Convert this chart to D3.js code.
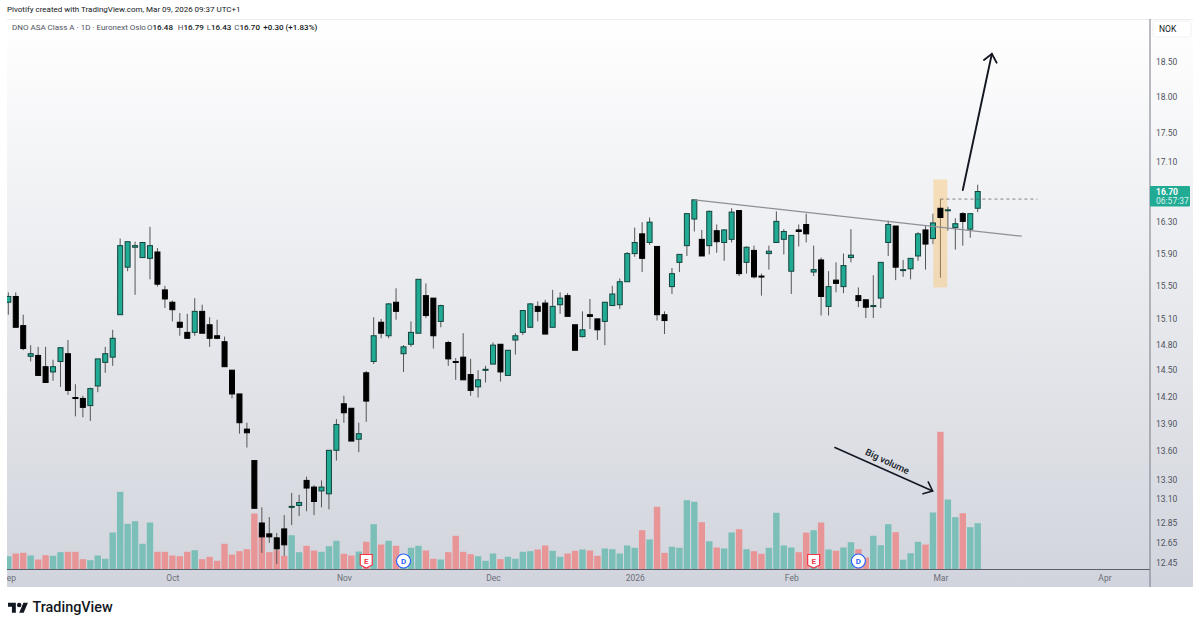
<!DOCTYPE html>
<html>
<head>
<meta charset="utf-8">
<script src="https://cdn.jsdelivr.net/npm/d3@7"></script>
<style>
  html, body { margin: 0; padding: 0; background: #fff; }
  text { font-family: Roboto, "Noto Sans", sans-serif; }
</style>
</head>
<body>
<div id="chart"></div>
<script>
// daily candles, oldest first (index 0 = first visible bar in Sep 2025)
const open = [15.30,15.37,15.02,14.66,14.67,14.54,14.48,14.60,14.69,14.19,14.18,14.10,14.32,14.59,14.65,15.15,15.73,15.98,15.85,15.84,
  15.92,15.45,15.30,15.06,14.94,14.94,15.19,15.03,14.90,14.83,14.50,14.23,13.84,13.50,12.85,12.74,12.70,12.79,13.01,13.03,
  13.29,13.22,13.18,13.15,13.61,14.12,14.07,13.73,14.47,14.60,15.06,14.90,15.30,14.69,14.80,14.93,15.38,15.35,15.07,14.82,
  14.60,14.65,14.45,14.31,14.50,14.57,14.80,14.44,14.85,14.94,15.00,15.25,15.29,15.00,15.27,15.38,15.03,14.89,15.15,15.10,
  15.07,15.26,15.27,15.55,15.90,16.15,16.04,15.99,15.15,15.49,15.79,16.00,16.34,16.08,16.00,16.19,16.04,16.08,16.45,15.79,
  15.94,15.62,15.90,16.04,16.08,15.68,16.20,16.27,15.67,15.82,15.25,15.57,15.49,15.85,15.38,15.33,15.25,15.35,16.04,16.25,
  15.69,15.71,15.87,16.20,16.09,16.48,16.45,16.23,16.41,16.21,16.48];
const high = [15.42,15.42,15.15,14.79,14.77,14.77,14.62,14.76,14.85,14.34,14.21,14.30,14.63,14.77,14.97,16.09,16.05,16.05,16.04,16.24,
  15.97,15.50,15.32,15.17,15.16,15.35,15.27,15.12,15.09,14.89,14.50,14.23,13.91,13.50,13.01,12.91,12.75,12.93,13.16,13.14,
  13.33,13.24,13.29,13.61,13.95,14.21,14.07,13.91,14.49,15.12,15.10,15.29,15.47,14.79,15.07,15.58,15.53,15.35,15.27,14.84,
  14.64,14.93,14.63,14.50,14.55,14.82,14.80,14.73,14.93,15.20,15.29,15.31,15.33,15.45,15.42,15.41,15.03,15.19,15.34,15.10,
  15.30,15.50,15.59,15.92,16.23,16.30,16.36,15.99,15.19,15.72,15.89,16.41,16.59,16.20,16.45,16.27,16.21,16.48,16.45,15.99,
  16.00,15.65,16.00,16.44,16.21,16.13,16.27,16.41,16.00,15.85,15.68,15.79,15.90,16.21,15.48,15.33,15.63,15.79,16.32,16.25,
  15.82,15.84,16.17,16.25,16.41,16.60,16.50,16.35,16.43,16.41,16.79];
const low = [15.15,15.00,14.73,14.60,14.44,14.36,14.38,14.31,14.22,13.98,13.97,13.93,14.25,14.47,14.55,15.15,15.68,15.39,15.85,15.58,
  15.49,15.23,15.07,14.90,14.87,14.90,14.93,14.77,14.86,14.54,14.18,13.79,13.64,13.00,12.55,12.65,12.44,12.52,12.83,12.92,
  12.97,12.93,13.01,12.99,13.50,13.91,13.71,13.59,13.92,14.57,14.87,14.87,15.09,14.48,14.77,14.93,15.11,14.75,15.00,14.55,
  14.39,14.39,14.21,14.19,14.36,14.57,14.37,14.44,14.68,14.91,14.99,15.07,14.92,15.00,15.16,15.13,14.73,14.88,14.98,14.85,
  14.79,15.26,15.22,15.55,15.86,15.67,16.01,15.08,14.92,15.40,15.67,15.87,16.18,15.87,15.89,15.91,15.81,16.04,15.62,15.65,
  15.59,15.38,15.70,16.04,15.89,15.40,15.99,16.04,15.62,15.14,15.14,15.42,15.41,15.79,15.24,15.11,15.11,15.23,15.87,15.57,
  15.61,15.58,15.81,15.70,16.02,15.60,16.19,15.95,16.00,16.10,16.43];
const close = [15.37,15.00,14.75,14.69,14.44,14.36,14.54,14.76,14.27,14.18,14.08,14.29,14.63,14.69,14.87,16.00,16.05,16.00,16.04,16.00,
  15.52,15.34,15.21,15.00,14.87,15.19,14.93,14.87,14.87,14.54,14.23,13.91,13.80,13.00,12.71,12.71,12.59,12.63,13.02,13.06,
  13.21,13.07,13.22,13.61,13.89,14.02,13.71,13.79,14.15,14.90,14.93,15.28,15.19,14.77,14.94,15.58,15.14,14.90,15.26,14.63,
  14.59,14.39,14.27,14.39,14.51,14.79,14.48,14.73,14.90,15.20,15.28,15.19,14.92,15.25,15.35,15.13,14.73,14.97,15.13,14.97,
  15.30,15.40,15.55,15.90,16.04,15.84,16.30,15.15,15.08,15.65,15.89,16.41,16.59,15.87,16.44,16.05,16.20,16.43,15.65,15.98,
  15.61,15.61,15.93,16.31,16.18,16.13,16.18,16.15,15.70,15.37,15.49,15.53,15.75,15.88,15.32,15.24,15.26,15.79,16.27,15.73,
  15.70,15.84,16.15,16.02,16.29,16.36,16.46,16.28,16.31,16.41,16.70];
// volume in thousands of shares (no scale printed on the chart, so relative)
const volume = [133,160,167,140,100,143,137,173,177,177,103,93,140,107,370,777,457,483,257,470,
  177,177,140,133,177,193,103,127,87,257,150,183,203,560,393,173,193,137,343,173,
  237,190,177,233,287,157,140,180,277,453,250,287,237,110,217,237,190,107,100,173,
  337,177,153,133,87,160,103,127,107,177,183,200,240,187,127,160,187,200,190,137,
  210,203,160,240,217,393,300,627,167,227,217,693,677,473,283,220,210,370,403,203,
  183,157,217,567,240,220,173,370,393,470,200,187,220,273,203,120,337,243,453,373,
  97,163,277,250,570,1377,700,523,563,423,463];

const priceTicks = [18.5,18,17.5,17.1,16.3,15.9,15.5,15.1,14.8,14.5,14.2,13.9,13.6,13.3,13.1,12.85,12.65,12.45];
const monthIndex = [0,22,45,65,84,105,125,147];
const monthLabels = ["Sep","Oct","Nov","Dec","2026","Feb","Mar","Apr"];
const earningsBars = [48,108];
const dividendBars = [53,114];
// the drawings on the chart, anchored as bar index / price
const trendBars = [92,135.9];
const trendPrices = [16.59,16.12];
const highlightBars = [124.05,125.92];
const highlightPrices = [16.86,15.48];
const dashBars = [125,138];
const dashPrice = 16.60;
const upArrowBars = [128,131.9];
const upArrowPrices = [16.72,18.62];
const volArrowBars = [110.85,123.95];
const volArrowPrices = [13.64,13.18];

const width = 1200, height = 627;
const margin = {top: 19, bottom: 587, left: 7, axis: 1150, right: 1193};

const svg = d3.select('#chart').append('svg')
    .attr('width', width)
    .attr('height', height)
    .style('display', 'block');

const defs = svg.append('defs');
const grad = defs.append('linearGradient').attr('id', 'bg').attr('x1', 0).attr('x2', 0).attr('y1', 0).attr('y2', 1);
grad.append('stop').attr('offset', '0%').attr('stop-color', '#ffffff');
grad.append('stop').attr('offset', '100%').attr('stop-color', '#d1d4dc');
defs.append('clipPath').attr('id', 'plot').append('rect')
    .attr('x', margin.left).attr('y', margin.top)
    .attr('width', margin.axis - margin.left).attr('height', margin.bottom - margin.top);

svg.append('rect')
    .attr('x', margin.left).attr('y', margin.top)
    .attr('width', margin.right - margin.left).attr('height', margin.bottom - margin.top)
    .attr('fill', 'url(#bg)');
svg.append('line').attr('x1', margin.left).attr('x2', margin.right)
    .attr('y1', margin.top + 0.5).attr('y2', margin.top + 0.5)
    .attr('stroke', '#eceef1');

// scales: bars are evenly spaced, price is log like the chart
const x = d3.scaleLinear().domain([0, 130]).range([8.3, 977.7]);
const y = d3.scaleLog().domain([12.45, 18.5]).range([563, 62]);
const v = d3.scaleLinear().domain([0, 1377]).range([569.5, 431.8]);

const plot = svg.append('g').attr('clip-path', 'url(#plot)');
const bars = d3.range(open.length);
const isUp = i => close[i] >= open[i];

// volume
plot.append('g').selectAll('rect')
    .data(bars)
    .enter()
    .append('rect')
    .attr('x', i => x(i) - 3.2)
    .attr('y', i => v(volume[i]))
    .attr('width', 6.4)
    .attr('height', i => v(0) - v(volume[i]))
    .attr('fill', i => isUp(i) ? '#7bbfb8' : '#e89597');

// wicks
plot.append('g').selectAll('line')
    .data(bars)
    .enter()
    .append('line')
    .attr('x1', i => x(i))
    .attr('x2', i => x(i))
    .attr('y1', i => y(high[i]))
    .attr('y2', i => y(low[i]))
    .attr('stroke', '#555')
    .attr('stroke-width', 1);

// highlight box over the big volume bar
plot.append('rect')
    .attr('x', x(highlightBars[0]))
    .attr('y', y(highlightPrices[0]))
    .attr('width', x(highlightBars[1]) - x(highlightBars[0]))
    .attr('height', y(highlightPrices[1]) - y(highlightPrices[0]))
    .attr('fill', '#ffb74d')
    .attr('fill-opacity', 0.35);

// bodies
plot.append('g').selectAll('rect')
    .data(bars)
    .enter()
    .append('rect')
    .attr('x', i => x(i) - 2.5)
    .attr('y', i => y(Math.max(open[i], close[i])))
    .attr('width', 5)
    .attr('height', i => Math.max(1, y(Math.min(open[i], close[i])) - y(Math.max(open[i], close[i]))))
    .attr('fill', i => isUp(i) ? '#22ab94' : '#000')
    .attr('stroke', i => isUp(i) ? '#12443d' : '#000')
    .attr('stroke-width', 1);

// trend line and dashed level
plot.append('line')
    .attr('x1', x(trendBars[0])).attr('y1', y(trendPrices[0]))
    .attr('x2', x(trendBars[1])).attr('y2', y(trendPrices[1]))
    .attr('stroke', '#8d8f96')
    .attr('stroke-width', 1.2);
plot.append('line')
    .attr('x1', x(dashBars[0])).attr('y1', y(dashPrice))
    .attr('x2', x(dashBars[1])).attr('y2', y(dashPrice))
    .attr('stroke', '#555')
    .attr('stroke-width', 0.7)
    .attr('stroke-dasharray', '3 3');

// arrows
function arrow(barsAB, pricesAB, w, head) {
  const x1 = x(barsAB[0]), y1 = y(pricesAB[0]), x2 = x(barsAB[1]), y2 = y(pricesAB[1]);
  const a = Math.atan2(y2 - y1, x2 - x1);
  const g = plot.append('g').attr('fill', 'none').attr('stroke', '#131722')
      .attr('stroke-width', w).attr('stroke-linecap', 'round');
  g.append('line').attr('x1', x1).attr('y1', y1).attr('x2', x2).attr('y2', y2);
  g.append('path').attr('d', d3.line()([
    [x2 - head * Math.cos(a - 0.7), y2 - head * Math.sin(a - 0.7)],
    [x2, y2],
    [x2 - head * Math.cos(a + 0.7), y2 - head * Math.sin(a + 0.7)]
  ]));
}
arrow(upArrowBars, upArrowPrices, 1.9, 10);
arrow(volArrowBars, volArrowPrices, 1.6, 10);

plot.append('text')
    .attr('transform', `translate(${x(117.7)},${y(13.46)}) rotate(25)`)
    .attr('text-anchor', 'middle')
    .attr('font-size', 9.5)
    .attr('font-weight', 500)
    .attr('fill', '#131722')
    .text('Big volume');

// earnings + dividend flags
const flagY = 561;
const eFlag = plot.append('g').selectAll('g').data(earningsBars).enter().append('g')
    .attr('transform', d => `translate(${x(d)},${flagY})`);
eFlag.append('path')
    .attr('d', 'M-6,-6.5H6V4L0,7L-6,4Z')
    .attr('fill', '#fff')
    .attr('stroke', '#f23645')
    .attr('stroke-width', 1.2);
eFlag.append('text').attr('text-anchor', 'middle').attr('y', 3)
    .attr('font-size', 8).attr('font-weight', 700).attr('fill', '#f23645').text('E');

const dFlag = plot.append('g').selectAll('g').data(dividendBars).enter().append('g')
    .attr('transform', d => `translate(${x(d)},${flagY})`);
dFlag.append('circle').attr('r', 7)
    .attr('fill', '#fff').attr('stroke', '#2962ff').attr('stroke-width', 1.2);
dFlag.append('text').attr('text-anchor', 'middle').attr('y', 3)
    .attr('font-size', 8).attr('font-weight', 700).attr('fill', '#2962ff').text('D');

// time axis
const xAxis = plot.append('g')
    .attr('transform', `translate(0,${v(0)})`)
    .call(d3.axisBottom(x)
      .tickValues(monthIndex)
      .tickFormat((d, i) => monthLabels[i])
      .tickSize(0)
      .tickPadding(5));
xAxis.select('.domain').attr('stroke', '#5d606b').attr('d', `M${margin.left},0H${margin.axis}`);
xAxis.selectAll('text')
    .attr('font-size', 8.5)
    .attr('font-family', 'Roboto, sans-serif')
    .attr('fill', '#6a6d78');

// price axis
const yAxis = svg.append('g')
    .attr('transform', `translate(${margin.axis},0)`)
    .call(d3.axisRight(y)
      .tickValues(priceTicks)
      .tickFormat(d3.format('.2f'))
      .tickSize(0)
      .tickPadding(6));
yAxis.select('.domain').attr('stroke', '#787b86').attr('d', `M0,${margin.top}V${margin.bottom}`);
yAxis.selectAll('text')
    .attr('font-size', 8.5)
    .attr('font-family', 'Roboto, sans-serif')
    .attr('fill', '#50535e');

// NOK box and last price label
svg.append('rect').attr('x', 1153).attr('y', 21).attr('width', 38).attr('height', 16)
    .attr('rx', 2).attr('fill', '#fff').attr('stroke', '#f0f1f4');
svg.append('text').attr('x', 1159).attr('y', 32).attr('font-size', 8.5).attr('fill', '#131722').text('NOK');

svg.append('rect').attr('x', margin.axis).attr('y', 186).attr('width', 40).attr('height', 20.5)
    .attr('rx', 1).attr('fill', '#22ab94');
svg.append('text').attr('x', 1156).attr('y', 194.5).attr('font-size', 8.5).attr('font-weight', 700)
    .attr('fill', '#fff').text(d3.format('.2f')(close[close.length - 1]));
svg.append('text').attr('x', 1156).attr('y', 203.5).attr('font-size', 8.5)
    .attr('fill', '#d9f2ee').text('06:57:37');

// header texts
svg.append('text').attr('x', 7).attr('y', 12).attr('font-size', 8).attr('fill', '#131722')
    .text('Pivotify created with TradingView.com, Mar 09, 2026 09:37 UTC+1');

const legend = svg.append('text').attr('y', 30).attr('font-size', 8).attr('fill', '#50535e');
const dark = {fill: '#131722', weight: 500};
legend.append('tspan').attr('x', 12).text('DNO ASA Class A · 1D · Euronext Oslo');
[['O', 147, '16.48'], ['H', 177.7, '16.79'], ['L', 206.7, '16.43'], ['C', 234.3, '16.70']].forEach(function(d) {
  legend.append('tspan').attr('x', d[1]).text(d[0]);
  legend.append('tspan').attr('font-weight', dark.weight).attr('fill', dark.fill).text(d[2]);
});
legend.append('tspan').attr('x', 263.3).attr('font-weight', dark.weight).attr('fill', dark.fill).text('+0.30 (+1.83%)');

// TradingView logo
svg.append('g').attr('transform', 'translate(8,600.5) scale(0.56)')
    .append('path')
    .attr('d', 'M14 22H7V11H0V4h14v18zM28 22h-8l7.5-18h8L28 22z M24 8a4 4 0 1 1-8 0a4 4 0 1 1 8 0z')
    .attr('fill', '#131722');
svg.append('text').attr('x', 32.5).attr('y', 612).attr('font-size', 14.4)
    .attr('font-family', 'Inter, sans-serif').attr('font-weight', 500)
    .attr('fill', '#131722').text('TradingView');
</script>
</body>
</html>
